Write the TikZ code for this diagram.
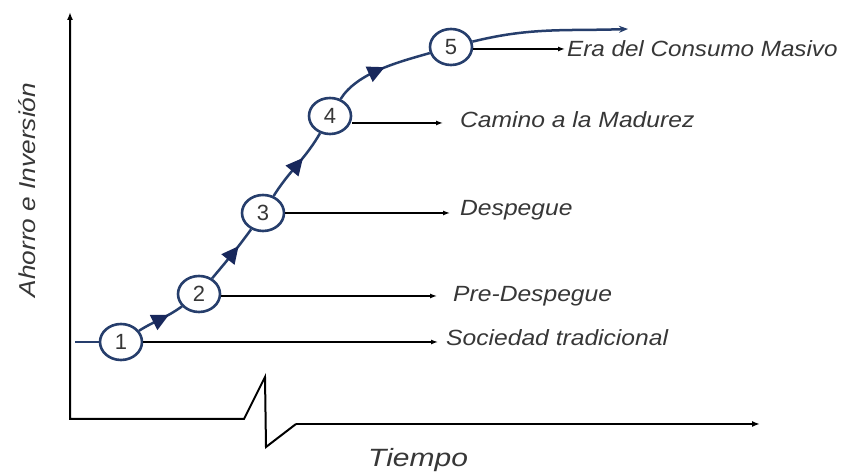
\documentclass[tikz,border=0pt]{standalone}
\usepackage{fontspec}
\setmainfont{Liberation Sans}
\usetikzlibrary{arrows.meta,shapes.geometric,decorations.markings}
\definecolor{navy}{RGB}{38,62,108}
\definecolor{tri}{RGB}{24,40,92}
\definecolor{txt}{RGB}{55,55,55}
\begin{document}
\begin{tikzpicture}[x=1pt,y=1pt,
  stage/.style={ellipse,draw=navy,line width=2.6pt,fill=white,minimum width=42pt,minimum height=36pt,inner sep=0pt,font=\fontsize{22}{22}\selectfont,text=txt},
  lab/.style={anchor=base west,inner sep=0pt,text=txt,font=\fontsize{22}{22}\selectfont\itshape},
  pointer/.style={line width=1.3pt,-{Latex[length=7pt,width=5pt]}},
  curve/.style={draw=navy,line width=2.5pt},
  midarrow/.style={postaction={decorate},decoration={markings,mark=at position #1 with {\fill[tri] (9pt,0pt) -- (-8pt,8.5pt) -- (-8pt,-8.5pt) -- cycle;}}},
  axis/.style={line width=2pt,black}]
\useasboundingbox (0,0) rectangle (849,473);
\fill[white] (0,0) rectangle (849,473);

% axes
\coordinate (ytop) at (70,461);
\coordinate (origin) at (70,54);
\coordinate (z1) at (244,54);
\coordinate (z2) at (265,96);
\coordinate (z3) at (266,26);
\coordinate (z4) at (296,49);
\coordinate (xend) at (760,49);
\draw[axis,{Latex[length=8pt,width=6pt]}-] (ytop) -- (origin) -- (z1) -- (z2) -- (z3) -- (z4);
\draw[axis,-{Latex[length=8pt,width=6pt]}] (z4) -- (xend);

% stages
\node[stage] (s1) at (121,131) {1};
\node[stage] (s2) at (199,179) {2};
\node[stage] (s3) at (263,260) {3};
\node[stage] (s4) at (330,357) {4};
\node[stage] (s5) at (451,426) {5};

% curve
\coordinate (cstart) at (75,131);
\coordinate (cend) at (628,444);
\draw[curve] (cstart) -- (s1);
\draw[curve,midarrow=0.5] (s1) to[out=32,in=216] (s2);
\draw[curve,midarrow=0.52] (s2) to[out=50,in=234] (s3);
\draw[curve,midarrow=0.5] (s3) to[out=58,in=240] (s4);
\draw[curve,midarrow=0.45] (s4) to[out=58,in=196,looseness=0.8] (s5);
\draw[curve,-{Stealth[length=9pt,width=7pt]}] (s5) to[out=14,in=182] (cend);

% pointers
\coordinate (p1) at (438,131);
\coordinate (p2) at (437,177);
\coordinate (p3) at (450,260);
\coordinate (p4) at (443,350);
\coordinate (p5) at (565,424);
\draw[pointer] (s1.east |- p1) -- (p1);
\draw[pointer] (s2.east |- p2) -- (p2);
\draw[pointer] (s3.east |- p3) -- (p3);
\draw[pointer] (s4.east |- p4) -- (p4);
\draw[pointer] (s5.east |- p5) -- (p5);

% labels
\node[lab] (t1) at (446,127) {\scalebox{1.12}[1]{Sociedad tradicional}};
\node[lab] (t2) at (453,171) {\scalebox{1.12}[1]{Pre-Despegue}};
\node[lab] (t3) at (460,257) {\scalebox{1.12}[1]{Despegue}};
\node[lab] (t4) at (460,345) {\scalebox{1.12}[1]{Camino a la Madurez}};
\node[lab] (t5) at (567,416) {\scalebox{1.1}[1]{Era del Consumo Masivo}};

% axis titles
\node[lab,font=\fontsize{25}{25}\selectfont\itshape] (tx) at (368,6) {\scalebox{1.2}[1]{Tiempo}};
\node[inner sep=0pt,anchor=base,rotate=90,text=txt,font=\fontsize{23}{23}\selectfont\itshape] (ty) at (35,283) {\scalebox{1.14}[1]{Ahorro e Inversión}};
\end{tikzpicture}
\end{document}
